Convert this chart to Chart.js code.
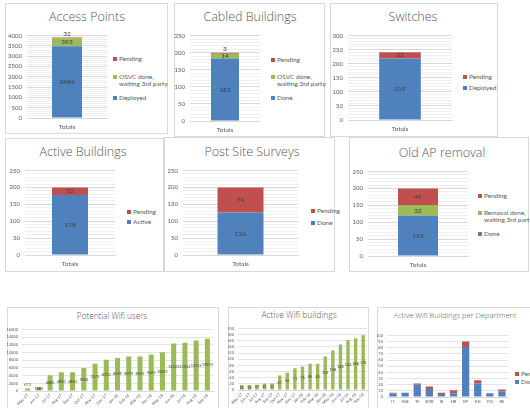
<!DOCTYPE html>
<html>
<head>
<meta charset="utf-8">
<script src="https://cdn.jsdelivr.net/npm/chart.js@4/dist/chart.umd.min.js"></script>
<style>
  body { margin: 0; background: #fff; font-family: Lato, "Open Sans", sans-serif; }
  #wrap { position: relative; width: 530px; height: 408px; overflow: hidden; }
  .box { position: absolute; border: 1px solid #d9d9d9; box-sizing: border-box; }
  .title { position: absolute; color: #595959; white-space: nowrap; transform: translateX(-50%); line-height: 1; font-family: "Open Sans", Lato, sans-serif; font-weight: 300; }
  canvas { position: absolute; }
  .leg { position: absolute; font-size: 6.5px; color: #595959; line-height: 7px; white-space: nowrap; }
  .leg i { display: inline-block; width: 4px; height: 4px; margin-right: 2px; vertical-align: 0px; }
</style>
</head>
<body>
<div id="wrap"></div>
<script>
// ---- data ----
const totals = ['Totals'];

const apNames = ['Deployed', 'OSVC done, waiting 3rd party', 'Pending'];
const apValues = [3484, 393, 32];

const cabledNames = ['Done', 'OSVC done, waiting 3rd party', 'Pending'];
const cabledValues = [183, 14, 3];

const switchNames = ['Deployed', 'Pending'];
const switchValues = [219, 22];

const activeNames = ['Active', 'Pending'];
const activeValues = [178, 22];

const surveyNames = ['Done', 'Pending'];
const surveyValues = [126, 74];

const removalNames = ['Done', 'Removal done, waiting 3rd party', 'Pending'];
const removalValues = [119, 32, 49];

const months = ['May-17', 'Jun-17', 'Jul-17', 'Aug-17', 'Sep-17', 'Oct-17', 'Nov-17', 'Dec-17',
  'Jan-18', 'Feb-18', 'Mar-18', 'Apr-18', 'May-18', 'Jun-18', 'Jul-18', 'Aug-18', 'Sep-18'];
const wifiUsers = [673, 1065, 4085, 4863, 4863, 5960, 7075, 8133, 8599, 8929, 8929, 9465, 10091, 12323, 12523, 13135, 13593];
const wifiBuildings = [16, 16, 17, 21, 21, 47, 56, 71, 76, 85, 85, 109, 128, 148, 162, 168, 178];

const departments = ['IT', 'HSE', 'TE', 'SMB', 'IR', 'HR', 'EP', 'EN', 'DG', 'BE'];
const deptDone = [6, 7, 20, 13, 5, 6, 81, 22, 6, 9];
const deptPending = [1, 0, 2, 4, 2, 5, 9, 5, 0, 3];

// ---- helpers ----
const BLUE = '#4F81BD', GREEN = '#9BBB59', RED = '#C0504D';
const seriesColors = n => n === 2 ? [BLUE, RED] : [BLUE, GREEN, RED];
Chart.defaults.font.family = 'Lato, "Open Sans", sans-serif';
Chart.defaults.color = '#595959';
Chart.defaults.animation = false;

const wrap = document.getElementById('wrap');

function addBox(x, y, w, h) {
  const d = document.createElement('div');
  d.className = 'box';
  Object.assign(d.style, {left: x + 'px', top: y + 'px', width: w + 'px', height: h + 'px'});
  wrap.appendChild(d);
}
function addTitle(text, cx, y, size) {
  const d = document.createElement('div');
  d.className = 'title';
  d.textContent = text;
  Object.assign(d.style, {left: cx + 'px', top: y + 'px', fontSize: size + 'px'});
  wrap.appendChild(d);
}
// legend items listed top to bottom; each item: [name, color, y]
function addLegend(x, items) {
  items.forEach(([name, color, y]) => {
    const d = document.createElement('div');
    d.className = 'leg';
    d.style.left = x + 'px';
    d.style.top = y + 'px';
    const parts = name.split(', ');
    d.innerHTML = '<i style="background:' + color + '"></i>' +
      (parts.length > 1 ? parts[0] + ',<br><span style="margin-left:6px">' + parts[1] + '</span>' : name);
    wrap.appendChild(d);
  });
}
function addCanvas(x, y, w, h) {
  const c = document.createElement('canvas');
  c.width = w; c.height = h;
  Object.assign(c.style, {left: x + 'px', top: y + 'px', width: w + 'px', height: h + 'px'});
  wrap.appendChild(c);
  return c;
}

const valueLabels = {
  id: 'valueLabels',
  afterDatasetsDraw(chart, args, opts) {
    if (!opts.show) return;
    const ctx = chart.ctx;
    ctx.save();
    ctx.fillStyle = '#404040';
    ctx.font = opts.size + 'px Lato, "Open Sans", sans-serif';
    ctx.textAlign = 'center';
    ctx.textBaseline = 'middle';
    chart.data.datasets.forEach((ds, i) => {
      chart.getDatasetMeta(i).data.forEach((bar, j) => {
        const p = bar.getProps(['x', 'y', 'base'], true);
        const hgt = Math.abs(p.base - p.y);
        const y = hgt < 3 ? p.y - 4 : (p.y + p.base) / 2;
        ctx.fillText(String(ds.data[j]), p.x, y);
      });
    });
    ctx.restore();
  }
};
Chart.register(valueLabels);

function makeTotals(p) {
  const c = addCanvas(p.canvas[0], p.canvas[1], p.canvas[2], p.canvas[3]);
  const colors = seriesColors(p.names.length);
  new Chart(c, {
    type: 'bar',
    data: {
      labels: totals,
      datasets: p.names.map((n, i) => ({
        label: n, data: [p.values[i]], backgroundColor: colors[i],
        categoryPercentage: 1, barPercentage: p.bar,
      })),
    },
    options: {
      responsive: false,
      layout: {padding: {top: 6, right: 2, left: 0, bottom: 0}},
      plugins: {legend: {display: false}, tooltip: {enabled: false}, valueLabels: {show: true, size: 6.5}},
      scales: {
        x: {
          stacked: true,
          grid: {display: false, drawTicks: false},
          border: {color: '#d9d9d9'},
          ticks: {font: {size: 6.5}, padding: 5},
          afterFit: s => { s.height = 16; },
        },
        y: {
          stacked: true,
          min: 0, max: p.max,
          border: {display: false},
          grid: {color: ctx => ctx.tick && ctx.tick.value % p.major === 0 ? '#d9d9d9' : '#f0f0f0', drawTicks: false},
          ticks: {
            stepSize: p.minor, autoSkip: false, font: {size: 6}, padding: 5,
            callback: v => v % p.major === 0 ? v : '',
          },
          afterFit: s => { s.width = p.yw; },
        },
      },
    },
  });
}

function makeMonthly(p) {
  const c = addCanvas(p.canvas[0], p.canvas[1], p.canvas[2], p.canvas[3]);
  new Chart(c, {
    type: 'bar',
    data: {
      labels: p.labels,
      datasets: p.sets.map(s => ({
        label: s.name, data: s.data, backgroundColor: s.color,
        categoryPercentage: 1, barPercentage: p.bar,
      })),
    },
    options: {
      responsive: false,
      layout: {padding: {top: 4, right: 2, left: 0, bottom: 0}},
      plugins: {legend: {display: false}, tooltip: {enabled: false}, valueLabels: {show: p.labelsOn, size: 3.8}},
      scales: {
        x: {
          stacked: true,
          grid: {display: false, drawTicks: false},
          border: {color: '#d9d9d9'},
          ticks: {font: {size: 4}, padding: 2, autoSkip: false, minRotation: p.rot, maxRotation: p.rot},
          afterFit: s => { s.height = p.xh; },
        },
        y: {
          stacked: true,
          min: 0, max: p.max,
          border: {display: false},
          grid: {color: '#e4e4e4', drawTicks: false},
          ticks: {stepSize: p.major, autoSkip: false, font: {size: 4}, padding: 4, callback: v => String(v)},
          afterFit: s => { s.width = p.yw; },
        },
      },
    },
  });
}

// ---- panels ----
addBox(5, 3, 163, 131);
addTitle('Access Points', 87, 11, 12.5);
makeTotals({canvas: [5, 27, 104, 107], names: apNames, values: apValues, max: 4000, major: 500, minor: 100, yw: 22, bar: 0.375});
addLegend(113, [['Pending', RED, 55], ['OSVC done, waiting 3rd party', GREEN, 73], ['Deployed', BLUE, 94]]);

addBox(174, 3, 151, 134);
addTitle('Cabled Buildings', 250, 11, 12.5);
makeTotals({canvas: [170, 27, 92, 110], names: cabledNames, values: cabledValues, max: 250, major: 50, minor: 10, yw: 20, bar: 0.4});
addLegend(271, [['Pending', RED, 56], ['OSVC done, waiting 3rd party', GREEN, 73], ['Done', BLUE, 94]]);

addBox(330, 3, 168, 134);
addTitle('Switches', 413, 11, 12.5);
makeTotals({canvas: [330, 27, 124, 109], names: switchNames, values: switchValues, max: 300, major: 50, minor: 10, yw: 18, bar: 0.4});
addLegend(463, [['Pending', RED, 73], ['Deployed', BLUE, 84]]);

addBox(5, 138, 159, 134);
addTitle('Active Buildings', 83, 146, 12.5);
makeTotals({canvas: [5, 162, 112, 109], names: activeNames, values: activeValues, max: 250, major: 50, minor: 10, yw: 20, bar: 0.4});
addLegend(127, [['Pending', RED, 208], ['Active', BLUE, 218]]);

addBox(164, 137, 171, 135);
addTitle('Post Site Surveys', 252, 146, 12.5);
makeTotals({canvas: [165, 162, 135, 109], names: surveyNames, values: surveyValues, max: 250, major: 50, minor: 10, yw: 18, bar: 0.4});
addLegend(311, [['Pending', RED, 207], ['Done', BLUE, 219]]);

addBox(349, 137, 180, 135);
addTitle('Old AP removal', 442, 147, 12.5);
makeTotals({canvas: [350, 163, 120, 109], names: removalNames, values: removalValues, max: 250, major: 50, minor: 10, yw: 18, bar: 0.4});
addLegend(478, [['Pending', RED, 192], ['Removal done, waiting 3rd party', GREEN, 209], ['Done', BLUE, 230]]);

addBox(7, 307, 212, 105);
addTitle('Potential Wifi users', 112, 312, 8.2);
makeMonthly({canvas: [7, 323, 208, 85], labels: months, sets: [{name: 'Users', data: wifiUsers, color: GREEN}],
  max: 16000, major: 2000, yw: 15, xh: 17, bar: 0.45, rot: 45, labelsOn: true});

addBox(228, 307, 141, 105);
addTitle('Active Wifi buildings', 299, 311, 8.5);
makeMonthly({canvas: [228, 322, 141, 86], labels: months, sets: [{name: 'Buildings', data: wifiBuildings, color: GREEN}],
  max: 200, major: 20, yw: 10, xh: 18, bar: 0.45, rot: 45, labelsOn: true});

addBox(377, 307, 160, 105);
addTitle('Active Wifi Buildings per Department', 455, 312, 7.5);
makeMonthly({canvas: [377, 329, 133, 79], labels: departments,
  sets: [{name: 'Done', data: deptDone, color: BLUE}, {name: 'Pending', data: deptPending, color: RED}],
  max: 100, major: 10, yw: 10, xh: 11, bar: 0.6, rot: 0, labelsOn: false});
addLegend(515, [['Pending', RED, 370], ['Done', BLUE, 378]]);
</script>
</body>
</html>
